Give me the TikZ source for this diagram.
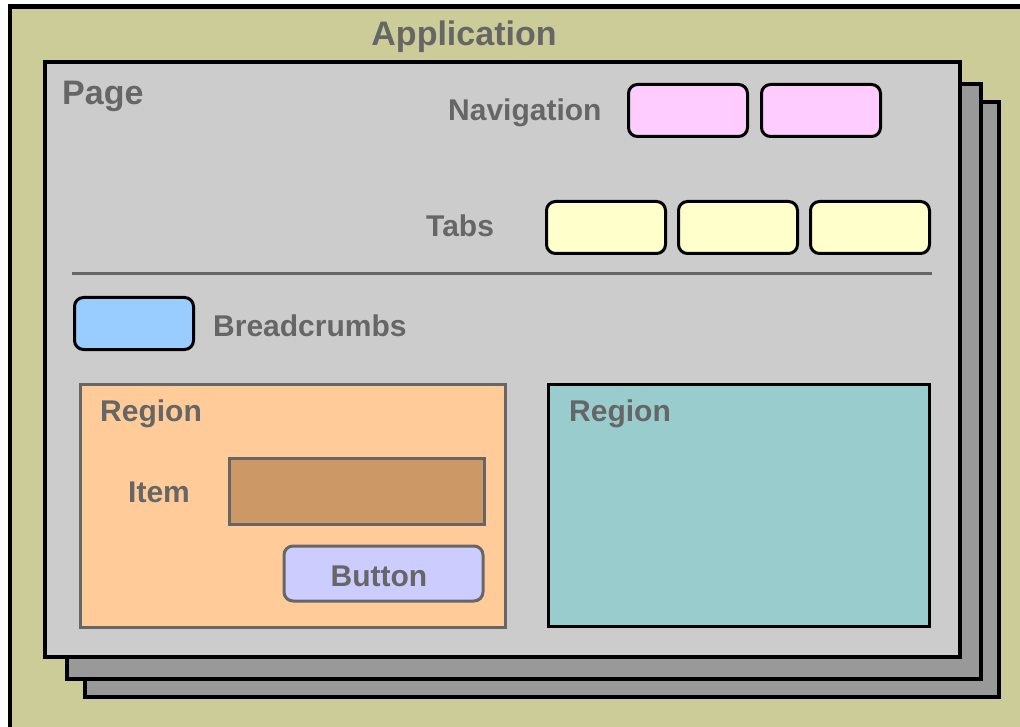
\documentclass[tikz,border=0pt]{standalone}
\usepackage{fontspec}
\setmainfont{Liberation Sans}
\usetikzlibrary{positioning}
\definecolor{colive}{HTML}{CCCC99}
\definecolor{cpage}{HTML}{CCCCCC}
\definecolor{cstack}{HTML}{999999}
\definecolor{cgrey}{HTML}{666666}
\definecolor{cpink}{HTML}{FFCCFF}
\definecolor{cyellow}{HTML}{FFFFCC}
\definecolor{cblue}{HTML}{99CCFF}
\definecolor{corange}{HTML}{FFCC99}
\definecolor{cteal}{HTML}{99CCCC}
\definecolor{cbrown}{HTML}{CC9966}
\definecolor{clilac}{HTML}{CCCCFF}
\tikzset{
  every picture/.style={x=1pt, y=-1pt, font=\fontsize{30}{36}\selectfont\bfseries},
  sheet/.style={draw=black, line width=3.5pt, fill=#1},
  sheet/.default=cstack,
  txt/.style={text=cgrey, inner sep=0pt, anchor=base west},
  big/.style={font=\fontsize{34}{40}\selectfont\bfseries},
  pill/.style={draw=black, line width=3pt, fill=#1, rounded corners=9pt, minimum width=119pt, minimum height=52pt, inner sep=0pt},
}
\begin{document}
\begin{tikzpicture}
  \useasboundingbox (0,0) rectangle (1020,727);
  \clip (0,0) rectangle (1020,727);
  % application and stacked pages
  \draw[sheet=colive, line width=4.5pt] (10,6.5) rectangle (1040,760);
  \draw[sheet] (85,102) rectangle (999,697);
  \draw[sheet] (67,84) rectangle (981,679);
  \draw[sheet=cpage] (45,62) rectangle (960,657);
  \node[txt, big, anchor=base] (app) at (464,46) {Application};
  \node[txt, big] (page) at (62,105) {Page};
  % navigation
  \node[txt] (navlbl) at (448,121) {Navigation};
  \node[pill=cpink] (nav1) at (688,110.5) {};
  \node[pill=cpink, right=11pt of nav1] (nav2) {};
  % tabs
  \node[txt] (tablbl) at (426,237) {Tabs};
  \node[pill=cyellow] (tab1) at (606,227.5) {};
  \node[pill=cyellow, right=10pt of tab1] (tab2) {};
  \node[pill=cyellow, right=10pt of tab2] (tab3) {};
  \draw[cgrey, line width=3pt] (72,274) -- (932,274);
  % breadcrumbs
  \node[pill=cblue] (crumb) at (134,323.5) {};
  \node[txt] (crumblbl) at (213,337) {Breadcrumbs};
  % regions
  \draw[sheet=corange, draw=cgrey, line width=3pt] (80,384) rectangle (505,627);
  \draw[sheet=cteal, line width=3pt] (548,384) rectangle (929,626);
  \node[txt] (reg1) at (100,421) {Region};
  \node[txt] (reg2) at (569,421) {Region};
  \node[txt] (itemlbl) at (128,502) {Item};
  \node[draw=cgrey, fill=cbrown, line width=3pt, minimum width=255pt, minimum height=66pt, inner sep=0pt] (item) at (356.5,491) {};
  \node[pill=clilac, draw=cgrey, minimum width=199pt, minimum height=55pt] (button) at (383.5,573.5) {};
  \node[txt, anchor=base] (buttonlbl) at (379,586) {Button};
\end{tikzpicture}
\end{document}
